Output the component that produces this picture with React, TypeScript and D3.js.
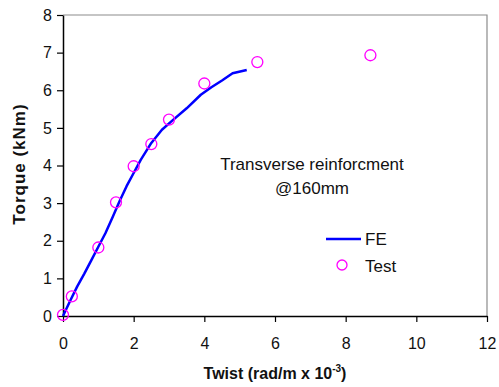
import * as d3 from "d3";
import { useEffect, useRef } from "react";

// FE curve (twist x 10^-3 rad/m, torque kNm)
const feTwist = [0, 0.2, 0.4, 0.6, 0.8, 1.0, 1.2, 1.4, 1.6, 1.8, 2.0, 2.2, 2.5, 2.8, 3.1, 3.5, 3.9, 4.2, 4.5, 4.8, 5.2];
const feTorque = [0, 0.4, 0.78, 1.12, 1.48, 1.84, 2.2, 2.62, 3.05, 3.45, 3.8, 4.15, 4.6, 4.95, 5.2, 5.52, 5.88, 6.08, 6.26, 6.45, 6.54];

// Test points
const testTwist = [0, 0.25, 1.0, 1.5, 2.0, 2.5, 3.0, 4.0, 5.5, 8.7];
const testTorque = [0.03, 0.52, 1.82, 3.02, 3.98, 4.57, 5.22, 6.18, 6.75, 6.93];

const xTicks = [0, 2, 4, 6, 8, 10, 12];
const yTicks = [0, 1, 2, 3, 4, 5, 6, 7, 8];

export default function App() {
    const svgRef = useRef<SVGSVGElement>(null);

    useEffect(() => {
        const svg = d3.select(svgRef.current);
        svg.selectAll("*").remove();

        const width = 499;
        const height = 387;
        const margin = { top: 15, right: 12, bottom: 71, left: 63 };
        const font = "Arial, 'Liberation Sans', sans-serif";

        const x = d3.scaleLinear().domain([0, 12]).range([margin.left, width - margin.right]);
        const y = d3.scaleLinear().domain([0, 8]).range([height - margin.bottom, margin.top]);

        // frame (top/right grey)
        svg.append("path")
            .attr("d", `M${x(0)},${y(8)}H${x(12)}V${y(0)}`)
            .attr("fill", "none")
            .attr("stroke", "#8c8c8c")
            .attr("stroke-width", 1.2);

        const xAxis = svg.append("g")
            .attr("transform", `translate(0,${y(0)})`)
            .call(d3.axisBottom(x).tickValues(xTicks).tickSize(6).tickSizeOuter(0).tickPadding(16));
        const yAxis = svg.append("g")
            .attr("transform", `translate(${x(0)},0)`)
            .call(d3.axisLeft(y).tickValues(yTicks).tickSize(6).tickSizeOuter(0).tickPadding(5));

        [xAxis, yAxis].forEach(g => {
            g.select(".domain").attr("stroke", "#000").attr("stroke-width", 1.5);
            g.selectAll(".tick line").attr("stroke", "#000").attr("stroke-width", 1.2);
            g.selectAll(".tick text")
                .attr("font-family", font)
                .attr("font-size", 16)
                .attr("fill", "#111");
        });

        // FE line
        const pts = feTwist.map((t, i) => [t, feTorque[i]] as [number, number]);
        svg.append("path")
            .datum(pts)
            .attr("fill", "none")
            .attr("stroke", "#0000ff")
            .attr("stroke-width", 2.5)
            .attr("stroke-linejoin", "round")
            .attr("d", d3.line<[number, number]>().x(d => x(d[0])).y(d => y(d[1])));

        // Test markers
        svg.append("g")
            .selectAll("circle")
            .data(testTwist.map((t, i) => [t, testTorque[i]]))
            .enter()
            .append("circle")
            .attr("cx", d => x(d[0]))
            .attr("cy", d => y(d[1]))
            .attr("r", 5.5)
            .attr("fill", "none")
            .attr("stroke", "#ff00ff")
            .attr("stroke-width", 1.3);

        // annotation
        const note = svg.append("text")
            .attr("font-family", font)
            .attr("font-size", 17)
            .attr("fill", "#111")
            .attr("text-anchor", "middle");
        note.append("tspan").attr("x", 312).attr("y", 170).text("Transverse reinforcment");
        note.append("tspan").attr("x", 312).attr("y", 194).text("@160mm");

        // legend
        const legend = svg.append("g").attr("transform", "translate(326,239)");
        legend.append("line")
            .attr("x1", 0).attr("x2", 35).attr("y1", 0).attr("y2", 0)
            .attr("stroke", "#0000ff").attr("stroke-width", 2.5);
        legend.append("text")
            .attr("x", 39).attr("y", 6)
            .attr("font-family", font).attr("font-size", 17).attr("fill", "#111")
            .text("FE");
        legend.append("circle")
            .attr("cx", 16).attr("cy", 26).attr("r", 5)
            .attr("fill", "none").attr("stroke", "#ff00ff").attr("stroke-width", 1.3);
        legend.append("text")
            .attr("x", 39).attr("y", 33)
            .attr("font-family", font).attr("font-size", 17).attr("fill", "#111")
            .text("Test");

        // axis titles
        const xt = svg.append("text")
            .attr("x", 275).attr("y", 379)
            .attr("text-anchor", "middle")
            .attr("font-family", font).attr("font-size", 16).attr("font-weight", "bold")
            .attr("fill", "#111");
        xt.append("tspan").text("Twist (rad/m x 10");
        xt.append("tspan").attr("font-size", 10).attr("dy", -7).text("-3");
        xt.append("tspan").attr("dy", 7).text(")");

        svg.append("text")
            .attr("transform", "translate(25,164) rotate(-90)")
            .attr("text-anchor", "middle")
            .attr("font-family", font).attr("font-size", 17).attr("font-weight", "bold")
            .attr("letter-spacing", 1)
            .attr("fill", "#111")
            .text("Torque (kNm)");
    }, []);

    return (
        <svg ref={svgRef} width={499} height={387}
            style={{ position: "absolute", left: 0, top: 0, background: "#fff" }} />
    );
}
